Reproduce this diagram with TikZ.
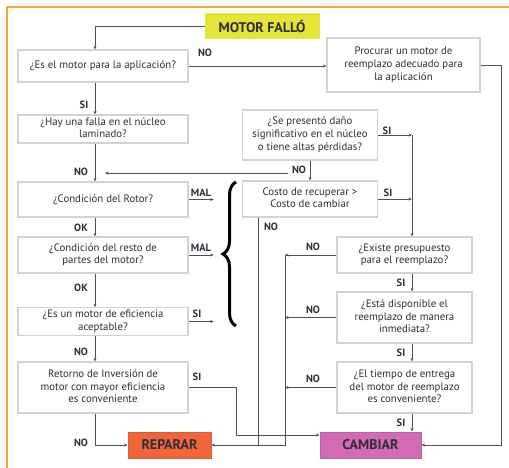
\documentclass[tikz,border=0pt]{standalone}
\usepackage{fontspec}
\setmainfont{PT Sans}
\usetikzlibrary{arrows.meta,calc,decorations.pathreplacing}
\definecolor{boxline}{HTML}{D2D2D2}
\definecolor{conn}{HTML}{505050}
\definecolor{txt}{HTML}{2E2E3A}
\definecolor{frameor}{HTML}{F3A83B}
\definecolor{yel}{HTML}{E4E538}
\definecolor{orng}{HTML}{F0663A}
\definecolor{pnk}{HTML}{D26BB4}
\newcommand{\mlines}[1]{\begin{tabular}{@{}c@{}}#1\end{tabular}}
\tikzset{
  box/.style={draw=boxline, line width=1.2pt, fill=white, inner sep=1pt,
    font=\fontsize{10.8}{12.8}\selectfont, text=txt},
  lbox/.style={box, minimum width=170pt},
  rbox/.style={box, minimum width=135pt},
  bigbox/.style={draw=boxline, line width=1pt, inner sep=1pt,
    font=\fontsize{14}{16}\selectfont\bfseries, text=txt},
  arr/.style={draw=conn, line width=0.8pt, -{Stealth[length=3.5pt,width=3pt]}},
  ln/.style={draw=conn, line width=0.8pt},
  lbl/.style={font=\fontsize{10.5}{12}\selectfont\bfseries, text=txt, inner sep=0pt}
}
\begin{document}
\begin{tikzpicture}[x=1pt,y=-1pt]
\useasboundingbox (0,0) rectangle (509,468);
\fill[white] (0,0) rectangle (509,468);
% frame
\draw[frameor, line width=1.5pt] (7,468) -- (7,7) -- (509,7);
\coordinate (mainx) at (95,0);
\coordinate (six) at (412,0);
\coordinate (nox) at (285,0);
% nodes
\node[bigbox, fill=yel, draw=yel, minimum width=114pt, minimum height=25pt] (motor) at (262,26.5) {MOTOR FALLÓ};
\node[lbox, minimum height=32pt] (q1) at (103,66) {¿Es el motor para la aplicación?};
\node[lbox, minimum height=28pt] (q2) at (103,129) {\mlines{¿Hay una falla en el núcleo\\laminado?}};
\node[box, minimum width=153pt, minimum height=54pt] (proc) at (403.5,65) {\mlines{Procurar un motor de\\reemplazo adecuado para\\la aplicación}};
\node[rbox, minimum height=50pt] (dano) at (310,135) {\mlines{¿Se presentó daño\\significativo en el núcleo\\o tiene altas pérdidas?}};
\node[lbox, minimum height=35pt] (rotor) at (103,199.5) {¿Condición del Rotor?};
\node[lbox, minimum height=36pt] (resto) at (103,255) {\mlines{¿Condición del resto de\\partes del motor?}};
\node[lbox, minimum height=27pt] (efic) at (103,321.5) {\mlines{¿Es un motor de eficiencia\\aceptable?}};
\node[lbox, minimum height=51pt] (ret) at (103,387.5) {\mlines{Retorno de Inversión de\\motor con mayor eficiencia\\es conveniente}};
\node[rbox, minimum height=36pt] (costo) at (310,199) {\mlines{Costo de recuperar >\\Costo de cambiar}};
\node[rbox, minimum height=36pt] (exist) at (404.5,255) {\mlines{¿Existe presupuesto\\para el reemplazo?}};
\node[rbox, minimum height=51pt] (disp) at (404.5,317.5) {\mlines{¿Está disponible el\\reemplazo de manera\\inmediata?}};
\node[rbox, minimum height=51pt] (tiempo) at (404.5,387.5) {\mlines{¿El tiempo de entrega\\del motor de reemplazo\\es conveniente?}};
\node[bigbox, fill=orng, draw=orng!90!black, minimum width=83pt, minimum height=26pt] (reparar) at (169.5,445) {REPARAR};
\node[bigbox, fill=pnk, draw=pnk!90!black, minimum width=101pt, minimum height=26pt] (cambiar) at (370.5,445) {CAMBIAR};
% connectors
\draw[arr] (motor.west) -| (q1.north -| mainx);
\draw[arr] (q1.east) -- (q1.east -| proc.west);
\node[lbl] (l1) at (205,53) {NO};
\draw[arr] (proc.east) -- ++(21,0) |- (cambiar.east);
\draw[arr] (q1.south -| mainx) -- (q2.north -| mainx);
\node[lbl] (l2) at (84,105) {SI};
\draw[arr] (q2.south -| mainx) -- (rotor.north -| mainx);
\node[lbl] (l3) at (81,172) {NO};
\draw[arr] (dano.south) -- (costo.north);
\node[lbl] (l4) at (299,170) {NO};
\coordinate (noj) at (288,173);
\draw[arr] (noj) -- ($(mainx |- noj)+(10,0)$);
\draw[arr] (rotor.east) -- ++(25,0);
\node[lbl] (l5) at (201,193) {MAL};
\draw[arr] (resto.east) -- ++(25,0);
\node[lbl] (l6) at (201,248) {MAL};
\draw[arr] (efic.east) -- ++(25,0);
\node[lbl] (l7) at (197,314) {SI};
\draw[arr] (rotor.south -| mainx) -- (resto.north -| mainx);
\node[lbl] (l8) at (81,228) {OK};
\draw[arr] (resto.south -| mainx) -- (efic.north -| mainx);
\node[lbl] (l9) at (81,288) {OK};
\draw[arr] (efic.south -| mainx) -- (ret.north -| mainx);
\node[lbl] (l10) at (81,352) {NO};
\draw[arr] (ret.south -| mainx) |- (reparar.west);
\node[lbl] (l11) at (81,443) {NO};
\draw[arr] (ret.east) -- ++(48,0) |- ($(cambiar.west)+(0,-10)$);
\node[lbl] (l12) at (197,377) {SI};
% brace
\draw[black, line width=3pt, decorate, decoration={brace, amplitude=13pt}] (236,326) -- (236,182);
% right side
\draw[arr] (dano.east) -- (dano.east -| six);
\node[lbl] (l13) at (387,131) {SI};
\draw[arr] (costo.east) -- (costo.east -| six);
\node[lbl] (l14) at (388,193) {SI};
\draw[arr] (dano.east -| six) -- (exist.north -| six);
\coordinate (cn) at ($(costo.south west)+(16,0)$);
\draw[ln] (cn) -- (cn |- reparar.east);
\node[lbl] (l15) at (271,227) {NO};
\draw[arr] (exist.west -| nox) |- (reparar.east);
\draw[arr] (exist.west) -- (exist.west -| nox);
\node[lbl] (l16) at (313,247) {NO};
\draw[arr] (disp.west) -- (disp.west -| nox);
\node[lbl] (l17) at (313,310) {NO};
\draw[arr] (tiempo.west) -- (tiempo.west -| nox);
\node[lbl] (l18) at (313,379) {NO};
\draw[arr] (exist.south -| six) -- (disp.north -| six);
\node[lbl] (l19) at (401,283) {SI};
\draw[arr] (disp.south -| six) -- (tiempo.north -| six);
\node[lbl] (l20) at (401,353) {SI};
\draw[arr] (tiempo.south -| six) -- (cambiar.north -| six);
\node[lbl] (l21) at (401,423) {SI};
\end{tikzpicture}
\end{document}
